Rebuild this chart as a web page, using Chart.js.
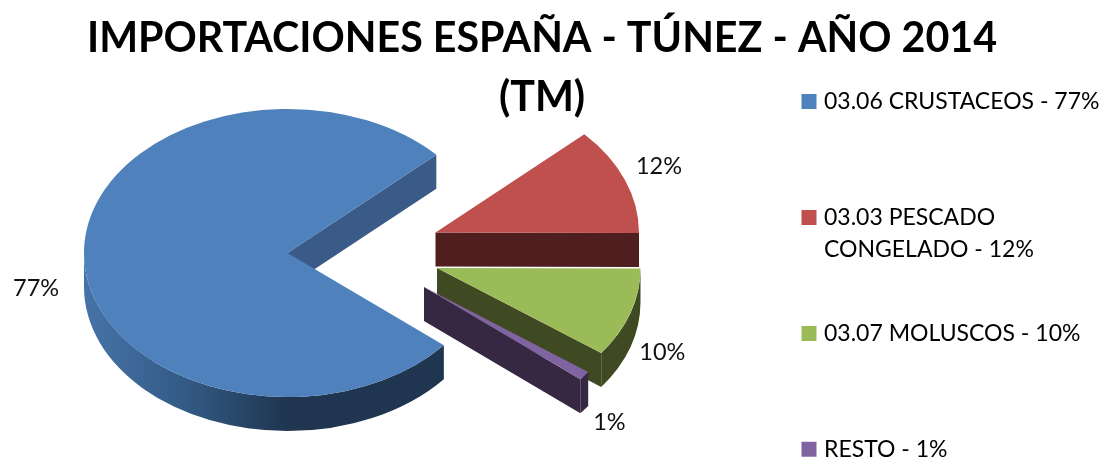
<!DOCTYPE html>
<html>
<head>
<meta charset="utf-8">
<style>html,body{margin:0;padding:0;background:#fff}canvas{display:block}</style>
<script src="https://cdn.jsdelivr.net/npm/chart.js@4"></script>
</head>
<body>
<canvas id="c" width="1104" height="459"></canvas>
<script>
const titleLines = ['IMPORTACIONES ESPAÑA - TÚNEZ - AÑO 2014', '(TM)'];
const categories = ['03.06 CRUSTACEOS', '03.03 PESCADO CONGELADO', '03.07 MOLUSCOS', 'RESTO'];
const legendLines = [
  ['03.06 CRUSTACEOS - 77%', ''],
  ['03.03 PESCADO', 'CONGELADO - 12%'],
  ['03.07 MOLUSCOS - 10%', ''],
  ['RESTO - 1%', '']
];
const shares = [77, 12, 10, 1];
const topColors = ['#4f81bd', '#c0504d', '#9bbb59', '#8064a2'];
const faceColors = ['#3a5a87', '#4f1f1f', '#3f4a22', '#362842'];
const rimColors = [['#4674a8', '#335a85', '#1f3550'], ['#4f1f1f'], ['#3f4a22'], ['#362842']];

// presentation of the 3D pie
const RADIUS = 203.5, SQUASH = 0.708, DEPTH = 34;
const PIE = {x: 287.5, y: 253};
const explode = [[0, 0], [148, -20.5], [149.5, 15], [136.5, 34]];
const labelPush = [[-48, 31], [34, -14], [32, 39], [25, 47]];
const LABEL_FONT = '23.5px Lato';

const pie3d = {
  id: 'pie3d',
  afterInit(chart) {
    const legend = chart.legend, fit = legend.fit;
    legend.fit = function () { this.maxHeight = 900; fit.call(this); };
  },
  afterLayout(chart) {
    const l = chart.legend, pad = l.options.labels.padding;
    l.left = 805.5 - pad; l.right = 1104;
    l.top = 90 - pad; l.bottom = 900;
    chart.titleBlock.left -= 10; chart.titleBlock.right -= 10;
  },
  beforeDatasetsDraw(chart) {
    const ctx = chart.ctx, arcs = chart.getDatasetMeta(0).data;
    const ry = RADIUS * SQUASH;
    const order = [0, 1, 2, 3];
    order.forEach(i => {
      const el = arcs[i];
      const ax = PIE.x + explode[i][0], ay = PIE.y + explode[i][1];
      const a0 = el.startAngle, a1 = el.endAngle;
      // radial face at the end edge, when it faces the viewer
      if (Math.cos(a1) > 0) {
        const px = ax + RADIUS * Math.cos(a1), py = ay + ry * Math.sin(a1);
        ctx.fillStyle = faceColors[i];
        ctx.beginPath();
        ctx.moveTo(ax, ay); ctx.lineTo(px, py);
        ctx.lineTo(px, py + DEPTH); ctx.lineTo(ax, ay + DEPTH);
        ctx.closePath(); ctx.fill();
      }
      // outer rim on the front half of the ellipse
      [0, 2 * Math.PI].forEach(k => {
        const s = Math.max(a0, k), e = Math.min(a1, k + Math.PI);
        if (e <= s) return;
        const stops = rimColors[i];
        let fill = stops[0];
        if (stops.length > 1) {
          fill = ctx.createLinearGradient(ax - RADIUS, 0, ax, 0);
          stops.forEach((c, n) => fill.addColorStop(n / (stops.length - 1), c));
        }
        ctx.fillStyle = fill;
        ctx.beginPath();
        ctx.ellipse(ax, ay, RADIUS, ry, 0, s, e);
        ctx.ellipse(ax, ay + DEPTH, RADIUS, ry, 0, e, s, true);
        ctx.closePath(); ctx.fill();
      });
      // top surface: the library's own arc element, squashed into perspective
      ctx.save();
      ctx.translate(ax, ay);
      ctx.scale(1, SQUASH);
      ctx.translate(-el.x, -el.y);
      el.draw(ctx);
      ctx.restore();
    });
    // percent labels
    ctx.save();
    ctx.font = LABEL_FONT;
    ctx.fillStyle = '#111';
    ctx.textAlign = 'center';
    ctx.textBaseline = 'middle';
    arcs.forEach((el, i) => {
      const mid = (el.startAngle + el.endAngle) / 2;
      const ax = PIE.x + explode[i][0], ay = PIE.y + explode[i][1];
      ctx.fillText(shares[i] + '%',
        ax + RADIUS * Math.cos(mid) + labelPush[i][0],
        ay + ry * Math.sin(mid) + labelPush[i][1]);
    });
    ctx.restore();
    return false;
  }
};

new Chart(document.getElementById('c'), {
  type: 'pie',
  data: {
    labels: categories,
    datasets: [{
      data: shares,
      backgroundColor: topColors,
      borderWidth: 0,
      hoverOffset: 0,
      radius: RADIUS
    }]
  },
  options: {
    responsive: false,
    animation: false,
    rotation: 129.8,
    plugins: {
      tooltip: {enabled: false},
      title: {
        display: true,
        text: titleLines,
        color: '#000',
        font: {family: 'Lato', size: 41.2, weight: 'bold', lineHeight: 1.43},
        padding: {top: 9, bottom: 0}
      },
      legend: {
        position: 'right',
        align: 'start',
        labels: {
          font: {family: 'Lato', size: 23, lineHeight: 1.39},
          color: '#111',
          padding: 52,
          usePointStyle: true,
          boxWidth: 7,
          boxHeight: 15,
          generateLabels: () => legendLines.map((text, i) => ({
            text, fillStyle: topColors[i], strokeStyle: topColors[i],
            lineWidth: 0, pointStyle: 'rect', index: i, hidden: false
          }))
        }
      }
    }
  },
  plugins: [pie3d]
});
</script>
</body>
</html>
